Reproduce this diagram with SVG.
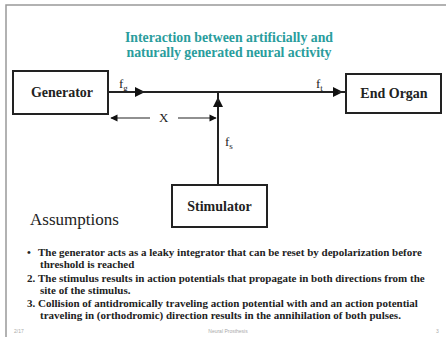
<svg xmlns="http://www.w3.org/2000/svg" width="446" height="337" viewBox="0 0 446 337">
<defs>
<style>
.box{fill:#fff;stroke:#222;stroke-width:2}
.lbl{font-family:"Liberation Serif","Times New Roman",serif;font-size:14px;font-weight:bold;fill:#222;text-anchor:middle}
.ttl{font-family:"Liberation Serif","Times New Roman",serif;font-size:13.8px;font-weight:bold;fill:#2a9d9d;text-anchor:middle}
.sym{font-family:"Liberation Serif","Times New Roman",serif;font-size:13px;fill:#222}
.sub{font-size:9px;fill:#222}
.body{font-family:"Liberation Serif","Times New Roman",serif;font-size:11px;font-weight:bold;fill:#222}
.line{stroke:#222;stroke-width:2;fill:none}
.thin{stroke:#222;stroke-width:1.2;fill:none}
.foot{font-family:"Liberation Sans",sans-serif;font-size:5px;fill:#aaa}
</style>
<marker id="ah" viewBox="0 0 10 10" refX="5" refY="5" markerWidth="5" markerHeight="5" orient="auto" markerUnits="strokeWidth"><path d="M0,0 L10,5 L0,10 z" fill="#111"/></marker>
<marker id="ahs" viewBox="0 0 10 10" refX="9" refY="5" markerWidth="7" markerHeight="6" orient="auto" markerUnits="strokeWidth"><path d="M0,0 L10,5 L0,10 z" fill="#111"/></marker>
</defs>
<rect x="0" y="0" width="446" height="337" fill="#fff"/>
<rect x="6" y="5" width="450" height="345" fill="none" stroke="#999" stroke-width="1.5"/>
<g id="title">
<text class="ttl" x="229" y="42">Interaction between artificially and</text>
<text class="ttl" x="229" y="57">naturally generated neural activity</text>
</g>
<g id="connectors">
<path class="line" d="M108,92 H140" marker-end="url(#ah)"/>
<path class="line" d="M140,92 H338" marker-end="url(#ah)"/>
<path class="line" d="M338,92 H346"/>
<path class="line" d="M218,185 V102" marker-end="url(#ah)"/>
<path class="line" d="M218,102 V92"/>
<path class="thin" d="M150,118 H111" marker-end="url(#ahs)"/>
<path class="thin" d="M178,118 H216" marker-end="url(#ahs)"/>
<text class="sym" x="159" y="122">X</text>
<text class="sym" x="119" y="88">f<tspan class="sub" dy="3">g</tspan></text>
<text class="sym" x="316" y="88">f<tspan class="sub" dy="3">t</tspan></text>
<text class="sym" x="225" y="146">f<tspan class="sub" dy="3">s</tspan></text>
</g>
<g id="generator">
<rect class="box" x="13" y="71" width="95" height="43"/>
<text class="lbl" x="62" y="97">Generator</text>
</g>
<g id="end-organ">
<rect class="box" x="346" y="74" width="95" height="39"/>
<text class="lbl" x="394" y="98">End Organ</text>
</g>
<g id="stimulator">
<rect class="box" x="172" y="185" width="95" height="42"/>
<text class="lbl" x="219.5" y="211">Stimulator</text>
</g>
<g id="assumptions">
<text x="30" y="225" style="font-family:'Liberation Serif','Times New Roman',serif;font-size:17px;fill:#222">Assumptions</text>
<text class="body" x="27" y="256">•</text>
<text class="body" x="38" y="256">The generator acts as a leaky integrator that can be reset by depolarization before</text>
<text class="body" x="40" y="268">threshold is reached</text>
<text class="body" x="27" y="282">2.</text>
<text class="body" x="38" y="282">The stimulus results in action potentials that propagate in both directions from the</text>
<text class="body" x="40" y="294">site of the stimulus.</text>
<text class="body" x="27" y="307">3.</text>
<text class="body" x="38" y="307">Collision of antidromically traveling action potential with and an action potential</text>
<text class="body" x="40" y="319">traveling in (orthodromic) direction results in the annihilation of both pulses.</text>
</g>
<g id="footer">
<text class="foot" x="14" y="333">2/17</text>
<text class="foot" x="228" y="333" text-anchor="middle">Neural Prosthesis</text>
<text class="foot" x="436" y="333">3</text>
</g>
</svg>
